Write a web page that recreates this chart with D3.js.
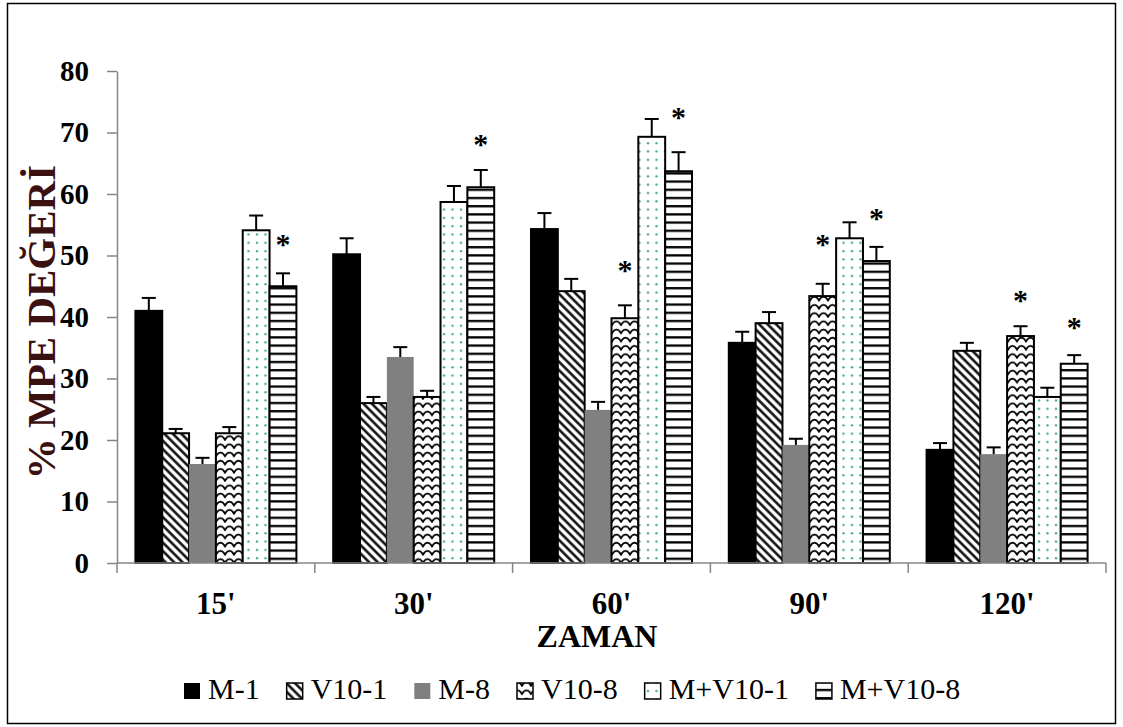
<!DOCTYPE html>
<html>
<head>
<meta charset="utf-8">
<script src="https://cdn.jsdelivr.net/npm/d3@7"></script>
<style>
  body { margin: 0; background: #fff; }
  svg { display: block; }
</style>
</head>
<body>
<svg id="chart" width="1123" height="727"></svg>
<script>
// categories and series
const categories = ["15'", "30'", "60'", "90'", "120'"];
const seriesNames = ["M-1", "V10-1", "M-8", "V10-8", "M+V10-1", "M+V10-8"];

// mean values per series (one per category)
const m1 = [41.0, 50.2, 54.3, 35.8, 18.4];
const v101 = [21.1, 26.0, 44.2, 39.0, 34.5];
const m8 = [16.1, 33.5, 24.9, 19.2, 17.7];
const v108 = [21.1, 27.0, 39.8, 43.4, 36.9];
const mv101 = [54.1, 58.7, 69.3, 52.8, 27.0];
const mv108 = [45.0, 61.1, 63.7, 49.1, 32.4];

// error bars (upper only)
const m1Err = [2.1, 2.6, 2.6, 1.8, 1.1];
const v101Err = [0.7, 1.0, 2.0, 1.8, 1.3];
const m8Err = [1.0, 1.6, 1.3, 1.0, 1.1];
const v108Err = [1.0, 1.0, 2.1, 2.0, 1.6];
const mv101Err = [2.4, 2.6, 2.9, 2.6, 1.5];
const mv108Err = [2.1, 2.8, 3.1, 2.3, 1.4];

// significance marks: category, series, height in axis units
const starCats = ["15'", "30'", "60'", "60'", "90'", "90'", "120'", "120'"];
const starSeries = ["M+V10-8", "M+V10-8", "V10-8", "M+V10-8", "V10-8", "M+V10-8", "V10-8", "M+V10-8"];
const starLevels = [52.5, 68.8, 48.3, 73.2, 52.5, 56.7, 43.4, 39.0];

const yTicks = [0, 10, 20, 30, 40, 50, 60, 70, 80];

const allValues = [m1, v101, m8, v108, mv101, mv108];
const allErrors = [m1Err, v101Err, m8Err, v108Err, mv101Err, mv108Err];

const rows = [];
seriesNames.forEach((s, i) => {
    categories.forEach((c, j) => {
        rows.push({ series: s, cat: c, value: allValues[i][j], err: allErrors[i][j] });
    });
});

const serif = "'Liberation Serif', 'Times New Roman', serif";
const svg = d3.select("#chart");

// outer frame
svg.append("rect")
    .attr("x", 7.5).attr("y", 3.5)
    .attr("width", 1108).attr("height", 720)
    .attr("fill", "none").attr("stroke", "#000").attr("stroke-width", 1.5);

// patterns
const defs = svg.append("defs");

const hatch = defs.append("pattern")
    .attr("id", "p-hatch").attr("patternUnits", "userSpaceOnUse")
    .attr("width", 6).attr("height", 6)
    .attr("patternTransform", "rotate(-45)");
hatch.append("rect").attr("width", 6).attr("height", 6).attr("fill", "#fff");
hatch.append("line").attr("x1", 1.5).attr("y1", 0).attr("x2", 1.5).attr("y2", 6)
    .attr("stroke", "#000").attr("stroke-width", 2.4);

const zig = defs.append("pattern")
    .attr("id", "p-zig").attr("patternUnits", "userSpaceOnUse")
    .attr("width", 9).attr("height", 8.2);
zig.append("rect").attr("width", 9).attr("height", 8.2).attr("fill", "#fff");
zig.append("path").attr("d", "M-0.5,6 Q2.2,1.2 4.5,1.6 Q6.8,1.2 9.5,6")
    .attr("fill", "none").attr("stroke", "#000").attr("stroke-width", 1.9);

const dots = defs.append("pattern")
    .attr("id", "p-dots").attr("patternUnits", "userSpaceOnUse")
    .attr("width", 8.5).attr("height", 8.3);
dots.append("rect").attr("width", 8.5).attr("height", 8.3).attr("fill", "#fff");
dots.append("circle").attr("cx", 2).attr("cy", 2).attr("r", 1.15).attr("fill", "#3aa678");

const horiz = defs.append("pattern")
    .attr("id", "p-horiz").attr("patternUnits", "userSpaceOnUse")
    .attr("width", 8).attr("height", 8.2);
horiz.append("rect").attr("width", 8).attr("height", 8.2).attr("fill", "#fff");
horiz.append("line").attr("x1", 0).attr("y1", 1.2).attr("x2", 8).attr("y2", 1.2)
    .attr("stroke", "#000").attr("stroke-width", 2.3);

const fills = {
    "M-1": "#000",
    "V10-1": "url(#p-hatch)",
    "M-8": "#808080",
    "V10-8": "url(#p-zig)",
    "M+V10-1": "url(#p-dots)",
    "M+V10-8": "url(#p-horiz)"
};
const strokes = {
    "M-1": "#000", "V10-1": "#000", "M-8": "none",
    "V10-8": "#000", "M+V10-1": "#000", "M+V10-8": "#000"
};

// scales
const plotLeft = 117, plotRight = 1106, plotTop = 71, plotBottom = 563;

const x = d3.scaleBand()
    .domain(categories)
    .range([plotLeft, plotRight])
    .paddingInner(0.186)
    .paddingOuter(0.093);

const xs = d3.scaleBand()
    .domain(seriesNames)
    .range([0, x.bandwidth()])
    .padding(0);

const y = d3.scaleLinear()
    .domain([0, 80])
    .range([plotBottom, plotTop]);

// y axis
const yAxis = svg.append("g")
    .attr("transform", `translate(${plotLeft},0)`)
    .call(d3.axisLeft(y).tickValues(yTicks).tickSize(10).tickSizeOuter(0).tickPadding(18));
yAxis.select(".domain").attr("stroke", "#868686").attr("stroke-width", 1.5);
yAxis.selectAll(".tick line").attr("stroke", "#868686").attr("stroke-width", 1.5);
yAxis.selectAll(".tick text")
    .attr("fill", "#000")
    .style("font-family", serif)
    .style("font-size", "29px")
    .style("font-weight", "bold");

// bars
const bars = svg.append("g");
bars.selectAll(".bar")
    .data(rows)
    .enter()
    .append("rect")
    .attr("class", "bar")
    .attr("x", d => x(d.cat) + xs(d.series))
    .attr("y", d => y(d.value))
    .attr("width", xs.bandwidth())
    .attr("height", d => y(0) - y(d.value))
    .attr("fill", d => fills[d.series])
    .attr("stroke", d => strokes[d.series])
    .attr("stroke-width", 2);

// error bars
const errG = svg.append("g").attr("stroke", "#000").attr("stroke-width", 2);
errG.selectAll(".err")
    .data(rows)
    .enter()
    .append("line")
    .attr("x1", d => x(d.cat) + xs(d.series) + xs.bandwidth() / 2)
    .attr("x2", d => x(d.cat) + xs(d.series) + xs.bandwidth() / 2)
    .attr("y1", d => y(d.value))
    .attr("y2", d => y(d.value + d.err));
errG.selectAll(".cap")
    .data(rows)
    .enter()
    .append("line")
    .attr("x1", d => x(d.cat) + xs(d.series) + xs.bandwidth() / 2 - 7)
    .attr("x2", d => x(d.cat) + xs(d.series) + xs.bandwidth() / 2 + 7)
    .attr("y1", d => y(d.value + d.err))
    .attr("y2", d => y(d.value + d.err));

// x axis (drawn over bar bottoms)
const xAxis = svg.append("g").attr("stroke", "#868686").attr("stroke-width", 1.5);
xAxis.append("line")
    .attr("x1", plotLeft).attr("x2", plotRight)
    .attr("y1", y(0)).attr("y2", y(0));
const step = x.step();
const bounds = categories.map(c => x(c) - (step - x.bandwidth()) / 2);
bounds.push(plotRight);
xAxis.selectAll(".xt")
    .data(bounds)
    .enter()
    .append("line")
    .attr("x1", d => d).attr("x2", d => d)
    .attr("y1", y(0)).attr("y2", y(0) + 10);

svg.append("g").selectAll(".xl")
    .data(categories)
    .enter()
    .append("text")
    .attr("x", d => x(d) + x.bandwidth() / 2)
    .attr("y", 614)
    .attr("text-anchor", "middle")
    .style("font-family", serif)
    .style("font-size", "31px")
    .style("font-weight", "bold")
    .text(d => d);

// significance marks
svg.append("g").selectAll(".star")
    .data(starCats.map((c, i) => ({ cat: c, series: starSeries[i], level: starLevels[i] })))
    .enter()
    .append("text")
    .attr("x", d => x(d.cat) + xs(d.series) + xs.bandwidth() / 2)
    .attr("y", d => y(d.level) + 14)
    .attr("text-anchor", "middle")
    .style("font-family", serif)
    .style("font-size", "30px")
    .style("font-weight", "bold")
    .text("*");

// axis titles
svg.append("text")
    .attr("x", 597).attr("y", 647)
    .attr("text-anchor", "middle")
    .style("font-family", serif)
    .style("font-size", "32px")
    .style("font-weight", "bold")
    .text("ZAMAN");

svg.append("text")
    .attr("transform", "translate(55,322) rotate(-90)")
    .attr("text-anchor", "middle")
    .attr("fill", "#3a1010")
    .style("font-family", serif)
    .style("font-size", "41px")
    .style("font-weight", "bold")
    .text("% MPE DEĞERİ");

// legend
const legend = svg.append("g");
let lx = 184;
seriesNames.forEach(s => {
    legend.append("rect")
        .attr("x", lx).attr("y", 683)
        .attr("width", 16).attr("height", 16)
        .attr("fill", fills[s])
        .attr("stroke", s === "M-1" || s === "M-8" ? "none" : "#000")
        .attr("stroke-width", 1.5);
    const t = legend.append("text")
        .attr("x", lx + 24).attr("y", 699)
        .style("font-family", serif)
        .style("font-size", "30px")
        .text(s);
    lx += 24 + t.node().getComputedTextLength() + 27;
});
</script>
</body>
</html>
